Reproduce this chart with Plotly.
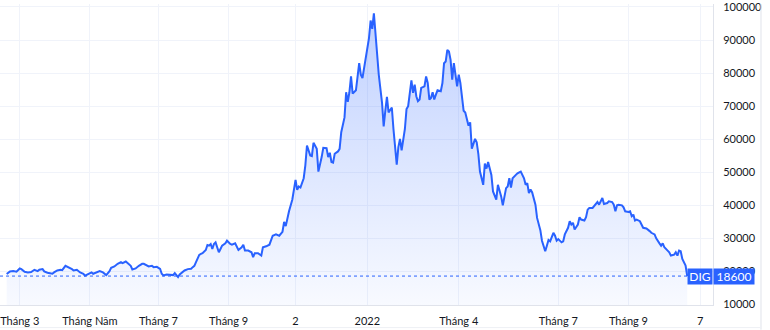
import plotly.graph_objects as go

# trading-session index (bar number) and close price
session = [0, 2, 4, 6, 8, 9, 11, 13, 15, 17, 19, 20, 22, 23, 25, 28, 29, 31, 33, 34,
           36, 38, 40, 41, 43, 45, 47, 48, 50, 52, 53, 55, 57, 59, 61, 63, 64, 66, 68, 70,
           71, 73, 75, 76, 77, 79, 81, 83, 84, 86, 87, 89, 90, 92, 94, 95, 96, 98, 100, 102,
           103, 105, 106, 108, 109, 111, 113, 114, 115, 116, 118, 119, 120, 122, 123, 124, 125, 126, 127, 128,
           129, 130, 131, 132, 134, 135, 137, 138, 140, 142, 144, 145, 146, 148, 150, 151, 152, 154, 156, 157,
           159, 161, 163, 165, 167, 169, 170, 171, 173, 175, 177, 178, 179, 180, 182, 183, 184, 186, 187, 188,
           190, 191, 193, 194, 196, 197, 198, 199, 200, 201, 203, 204, 205, 207, 208, 209, 210, 211, 212, 214,
           216, 217, 218, 221, 222, 223, 224, 225, 226, 227, 228, 230, 231, 232, 233, 234, 235, 236, 237, 239,
           240, 241, 242, 244, 245, 246, 248, 249, 250, 251, 252, 253, 254, 256, 257, 258, 259, 260, 261, 262,
           263, 264, 266, 267, 268, 269, 270, 271, 272, 273, 274, 276, 277, 278, 280, 281, 283, 284, 285, 287,
           288, 289, 290, 292, 293, 294, 295, 297, 298, 300, 301, 303, 304, 306, 307, 308, 309, 310, 312, 313,
           315, 317, 318, 319, 320, 321, 322, 324, 325, 327, 328, 330, 331, 332, 333, 334, 335, 336, 337, 338,
           340, 341, 342, 344, 345, 346, 347, 348, 350, 351, 352, 354, 355, 356, 357, 359, 361, 362, 363, 364,
           365, 366, 368, 369, 371, 372, 373, 374, 375, 377, 378, 379, 381, 382, 383, 384, 385, 386, 388, 390,
           391, 392, 394, 395, 397, 398, 400, 401, 402, 403, 405, 406, 407, 409, 410, 411, 412, 413, 414, 416,
           417]
close = [19200, 20000, 20100, 19900, 20900, 20700, 19900, 19700, 19800, 20500, 20100, 20500, 20700, 20000, 19600, 19300, 19700, 20300, 20500, 20400,
         21700, 21300, 20700, 20300, 20500, 19700, 19300, 18700, 19100, 19700, 19300, 19800, 20100, 19700, 18900, 20100, 21100, 21500, 22300, 22800,
         22500, 23000, 22000, 21700, 20600, 20900, 21700, 22300, 22300, 21800, 21500, 21700, 21300, 21400, 20800, 19300, 18800, 19100, 18900, 18900,
         19500, 18300, 19100, 19900, 20300, 20700, 20800, 21300, 21700, 22800, 25000, 25300, 25500, 26500, 28000, 27800, 28300, 26800, 28300, 28800,
         27300, 25800, 26800, 27800, 28500, 29300, 28300, 28100, 28500, 26500, 27300, 28100, 26300, 26300, 25800, 24300, 25500, 25500, 24800, 27300,
         27600, 28100, 30800, 31200, 30800, 32000, 35000, 33700, 38200, 41700, 47700, 44700, 45700, 45400, 48200, 52100, 58100, 55100, 54900, 58900,
         57100, 50200, 54600, 57400, 57300, 54600, 55900, 53100, 52900, 55600, 56300, 57100, 62100, 66600, 74200, 71300, 74200, 79000, 73800, 74800,
         83000, 79500, 78500, 88000, 90600, 95900, 93400, 98100, 91900, 86000, 79500, 71000, 63900, 68600, 72800, 68100, 69100, 69600, 63100, 52300,
         57600, 60100, 56600, 63100, 69100, 70000, 77800, 74000, 76500, 73000, 71500, 72000, 75500, 76000, 79000, 77000, 72000, 72500, 74200, 72000,
         73500, 74800, 74500, 77000, 83000, 83500, 87000, 86500, 84000, 78000, 83000, 76000, 79500, 77000, 68600, 68100, 64100, 65100, 57100, 60100,
         59100, 55600, 50200, 46200, 52600, 51100, 53100, 49200, 44200, 41700, 46200, 42700, 40000, 45200, 45700, 48200, 45400, 48200, 49200, 49700,
         50200, 48200, 46200, 46700, 43700, 44800, 43900, 40200, 36200, 32500, 29300, 26100, 27800, 29500, 29100, 30500, 31700, 30800, 29300, 29800,
         28800, 29100, 31200, 33200, 35200, 34200, 34700, 32700, 34200, 36400, 35700, 35400, 36400, 38700, 39200, 39200, 40200, 41000, 40200, 41200,
         42200, 40400, 40700, 41200, 41000, 40200, 38200, 40000, 40200, 40000, 39400, 38200, 38000, 38200, 36700, 37200, 35400, 35700, 35200, 33200,
         33200, 33000, 32200, 31700, 31200, 30000, 28500, 27800, 28500, 27300, 26300, 25800, 24800, 25100, 25800, 24800, 26300, 26100, 23800, 21800,
         18600]

tick_sessions = [8, 51, 93, 136, 177, 221, 277, 338, 381, 425]
tick_labels = ["Tháng 3", "Tháng Năm", "Tháng 7", "Tháng 9", "2", "2022",
               "Tháng 4", "Tháng 7", "Tháng 9", "7"]
y_ticks = [10000, 20000, 30000, 40000, 50000, 60000, 70000, 80000, 90000, 100000]

symbol = "DIG"
last_price = close[-1]

BLUE = "#2962FF"
GRID = "#f0f3fa"
FONT = "Lato"

fig = go.Figure()
fig.add_trace(go.Scatter(
    x=session, y=close, mode="lines",
    line=dict(color=BLUE, width=2),
    fill="tozeroy",
    fillgradient=dict(type="vertical", start=9850, stop=100000,
                      colorscale=[[0, "rgba(41,98,255,0.03)"],
                                  [1, "rgba(41,98,255,0.30)"]]),
    hoverinfo="skip",
))

# last price dotted line
fig.add_shape(type="line", xref="paper", x0=0, x1=1, yref="y",
              y0=last_price, y1=last_price,
              line=dict(color=BLUE, width=1, dash="dot"))

# outer border lines
fig.add_shape(type="line", xref="paper", yref="paper", x0=1.0673, x1=1.0673,
              y0=-0.082, y1=1, line=dict(color="#e0e3eb", width=1))
fig.add_shape(type="line", xref="paper", yref="paper", x0=0, x1=1.0673,
              y0=-0.075, y1=-0.075, line=dict(color="#eef0f5", width=1))

fig.add_annotation(xref="paper", x=1, xanchor="right", yref="y", y=last_price,
                   text=symbol, showarrow=False, bgcolor=BLUE,
                   font=dict(color="white", size=12, family=FONT),
                   borderpad=1, width=22, height=13)
fig.add_annotation(xref="paper", x=1, xanchor="left", yref="y", y=last_price,
                   text=str(last_price), showarrow=False, bgcolor=BLUE,
                   font=dict(color="white", size=12, family=FONT),
                   borderpad=1, width=38, height=13)

fig.update_layout(
    width=770, height=330,
    margin=dict(l=0, r=57, t=0, b=25),
    paper_bgcolor="white", plot_bgcolor="white",
    showlegend=False,
    font=dict(family=FONT, size=11, color="#131722"),
    xaxis=dict(range=[-4.1, 432.8], tickmode="array", tickvals=tick_sessions,
               ticktext=tick_labels, showgrid=True, gridcolor=GRID, gridwidth=1,
               zeroline=False, showline=True, linecolor="#e0e3eb", ticks="",
               ticklabelstandoff=6, ticklabeloverflow="allow", fixedrange=True),
    yaxis=dict(side="right", range=[9850, 100900], tickmode="array",
               tickvals=y_ticks, ticktext=[str(v) for v in y_ticks],
               showgrid=True, gridcolor=GRID, gridwidth=1, zeroline=False,
               showline=True, linecolor="#e0e3eb", ticks="",
               ticklabelstandoff=7, ticklabeloverflow="allow", fixedrange=True),
)

fig.write_html("out.html")
